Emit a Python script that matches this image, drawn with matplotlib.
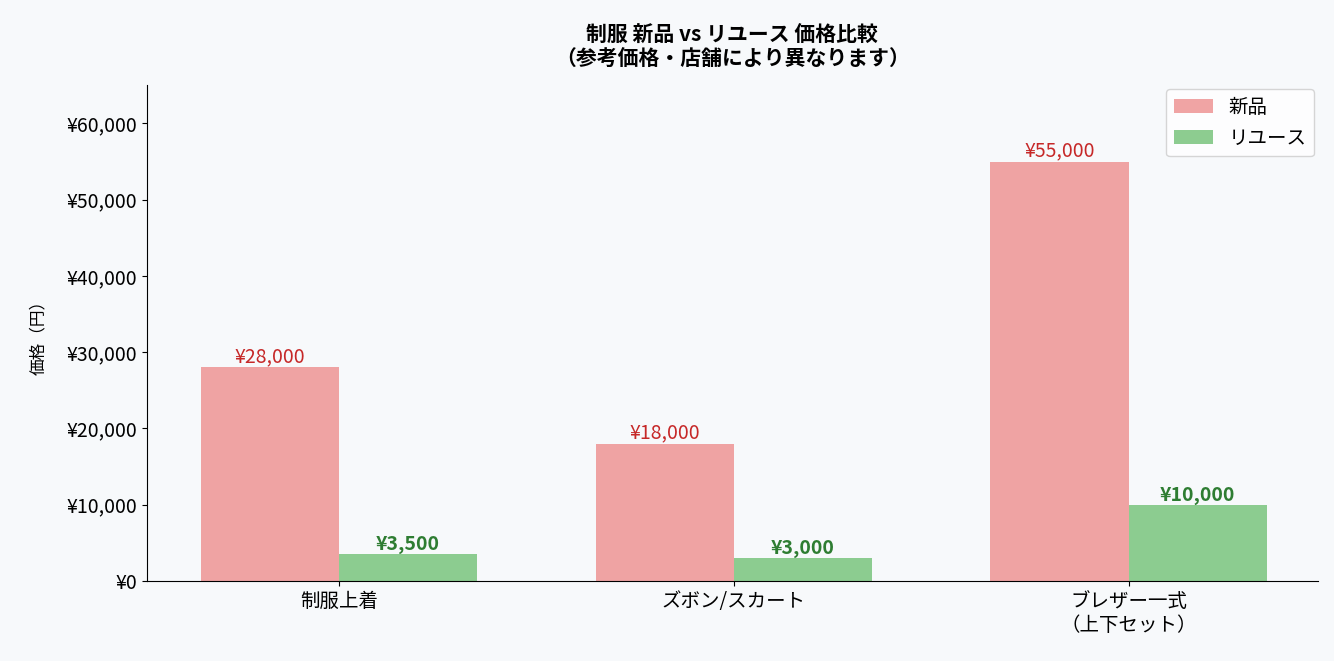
import matplotlib
matplotlib.use("Agg")
import matplotlib.pyplot as plt
import numpy as np

plt.rcParams['font.family'] = ['Noto Sans CJK JP', 'DejaVu Sans']

categories = ["制服上着", "ズボン/スカート", "ブレザー一式\n（上下セット）"]
new_prices = [28000, 18000, 55000]
reuse_prices = [3500, 3000, 10000]
yticks = [0, 10000, 20000, 30000, 40000, 50000, 60000]

fig = plt.figure(figsize=(13.34, 6.61), dpi=100, facecolor='#f7f9fb')
ax = fig.add_axes([0.110, 0.121, 0.878, 0.750])
ax.set_facecolor('#f7f9fb')
x = np.arange(len(categories))
w = 0.35
b1 = ax.bar(x - w/2, new_prices, w, color='#ef9a9a', alpha=0.9, label='新品')
b2 = ax.bar(x + w/2, reuse_prices, w, color='#81c784', alpha=0.9, label='リユース')
for r, v in zip(b1, new_prices):
    ax.text(r.get_x() + r.get_width()/2, v, f"¥{v:,}", ha='center', va='bottom',
            color='#c62828', fontsize=14)
for r, v in zip(b2, reuse_prices):
    ax.text(r.get_x() + r.get_width()/2, v, f"¥{v:,}", ha='center', va='bottom',
            color='#2e7d32', fontsize=14, fontweight='bold')
ax.set_ylim(0, 65000)
ax.set_xlim(-0.487, 2.48)
ax.set_yticks(yticks)
ax.set_yticklabels([f"¥{v:,}" for v in yticks], fontsize=14)
ax.set_xticks(x)
ax.set_xticklabels(categories, fontsize=14)
ax.set_ylabel("価格（円）", fontsize=12, labelpad=14)
ax.spines['top'].set_visible(False)
ax.spines['right'].set_visible(False)
ax.legend(fontsize=14, loc='upper right', borderaxespad=0.2)
ax.set_title("制服 新品 vs リユース 価格比較\n（参考価格・店舗により異なります）",
             fontsize=15, fontweight='bold', pad=14)
fig.savefig("out.png", dpi=100, facecolor=fig.get_facecolor())
